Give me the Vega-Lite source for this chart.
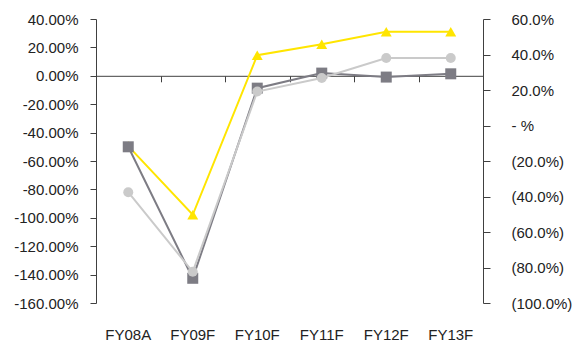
{
  "$schema": "https://vega.github.io/schema/vega-lite/v6.json",
  "width": 387,
  "height": 284,
  "autosize": {"type": "none"},
  "padding": {"left": 96, "top": 19, "right": 90, "bottom": 43},
  "background": "white",
  "config": {
    "view": {"stroke": null},
    "font": "Liberation Sans",
    "axis": {
      "labelFont": "Liberation Sans",
      "labelFontSize": 15,
      "labelColor": "#222222",
      "domainColor": "#404040",
      "tickColor": "#404040",
      "grid": false
    }
  },
  "data": {
    "values": [
      {"fy": "FY08A", "series": "A", "value": -50.0},
      {"fy": "FY09F", "series": "A", "value": -142.6},
      {"fy": "FY10F", "series": "A", "value": -8.7},
      {"fy": "FY11F", "series": "A", "value": 1.9},
      {"fy": "FY12F", "series": "A", "value": -0.9},
      {"fy": "FY13F", "series": "A", "value": 1.4},
      {"fy": "FY08A", "series": "B", "value": -82.0},
      {"fy": "FY09F", "series": "B", "value": -138.0},
      {"fy": "FY10F", "series": "B", "value": -11.1},
      {"fy": "FY11F", "series": "B", "value": -1.6},
      {"fy": "FY12F", "series": "B", "value": 12.5},
      {"fy": "FY13F", "series": "B", "value": 12.5},
      {"fy": "FY08A", "series": "C", "value": -11.6},
      {"fy": "FY09F", "series": "C", "value": -50.3},
      {"fy": "FY10F", "series": "C", "value": 39.6},
      {"fy": "FY11F", "series": "C", "value": 45.8},
      {"fy": "FY12F", "series": "C", "value": 52.8},
      {"fy": "FY13F", "series": "C", "value": 52.8}
    ]
  },
  "layer": [
    {
      "transform": [{"filter": "datum.series === 'C'"}],
      "mark": {
        "type": "line",
        "color": "#ffe500",
        "strokeWidth": 2,
        "point": {"shape": "triangle-up", "size": 120, "filled": true, "color": "#ffe500", "opacity": 1}
      },
      "encoding": {
        "x": {
          "field": "fy",
          "type": "nominal",
          "bandPosition": 0.5,
          "scale": {"type": "band", "paddingInner": 0, "paddingOuter": 0, "domain": ["FY08A", "FY09F", "FY10F", "FY11F", "FY12F", "FY13F"]},
          "axis": {"orient": "bottom", "title": null, "domain": false, "ticks": false, "labelAngle": 0, "labelPadding": 24}
        },
        "y": {
          "field": "value",
          "type": "quantitative",
          "scale": {"domain": [-100, 60], "nice": false, "zero": false},
          "axis": {
            "orient": "right",
            "title": null,
            "values": [-100, -80, -60, -40, -20, 0, 20, 40, 60],
            "tickSize": 7,
            "labelPadding": 21,
            "labelAlign": "left",
            "labelExpr": "datum.value == 0 ? '\u00a0- %' : (datum.value < 0 ? '(' + format(-datum.value, '.1f') + '%)' : format(datum.value, '.1f') + '%')"
          }
        }
      }
    },
    {
      "encoding": {
        "x": {
          "field": "fy",
          "type": "nominal",
          "bandPosition": 0.5,
          "scale": {"type": "band", "paddingInner": 0, "paddingOuter": 0, "domain": ["FY08A", "FY09F", "FY10F", "FY11F", "FY12F", "FY13F"]},
          "axis": {"orient": "bottom", "title": null, "labels": false, "offset": -227.2, "tickBand": "extent", "tickSize": 6}
        },
        "y": {
          "field": "value",
          "type": "quantitative",
          "scale": {"domain": [-160, 40], "nice": false, "zero": false},
          "axis": {
            "orient": "left",
            "title": null,
            "values": [-160, -140, -120, -100, -80, -60, -40, -20, 0, 20, 40],
            "tickSize": 6,
            "labelPadding": 12,
            "labelExpr": "(datum.value < 0 ? '-' : '') + format(abs(datum.value), '.2f') + '%'"
          }
        }
      },
      "layer": [
        {
          "transform": [{"filter": "datum.series === 'A'"}],
          "mark": {
            "type": "line",
            "color": "#7d7c84",
            "strokeWidth": 2,
            "point": {"shape": "square", "size": 121, "filled": true, "color": "#7d7c84", "opacity": 1}
          }
        },
        {
          "transform": [{"filter": "datum.series === 'B'"}],
          "mark": {
            "type": "line",
            "color": "#cacaca",
            "strokeWidth": 2,
            "point": {"shape": "circle", "size": 100, "filled": true, "color": "#cacaca", "opacity": 1}
          }
        }
      ]
    }
  ],
  "resolve": {"scale": {"x": "independent", "y": "independent"}}
}
